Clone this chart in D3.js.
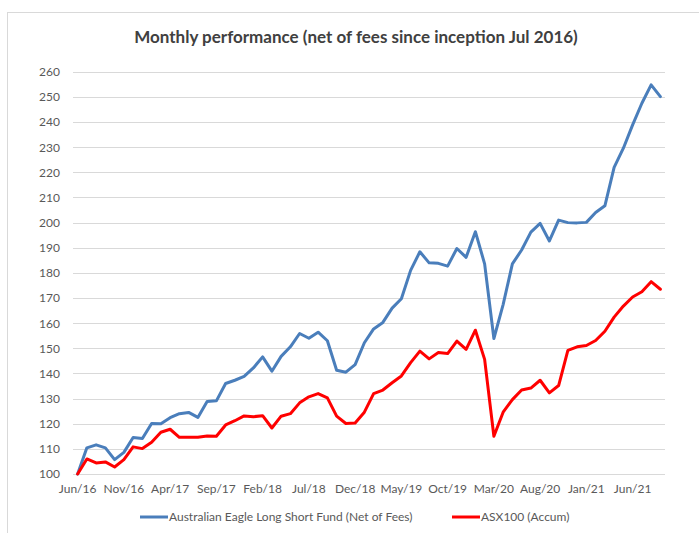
<!DOCTYPE html>
<html><head><meta charset="utf-8">
<script src="https://cdn.jsdelivr.net/npm/d3@7"></script>
<style>body{margin:0;background:#fff}svg{display:block}</style>
</head><body>
<svg id="c" width="699" height="533"></svg>
<script>
const months = ["Jun/16","Jul/16","Aug/16","Sep/16","Oct/16","Nov/16","Dec/16","Jan/17","Feb/17","Mar/17","Apr/17","May/17","Jun/17","Jul/17","Aug/17","Sep/17","Oct/17","Nov/17","Dec/17","Jan/18","Feb/18","Mar/18","Apr/18","May/18","Jun/18","Jul/18","Aug/18","Sep/18","Oct/18","Nov/18","Dec/18","Jan/19","Feb/19","Mar/19","Apr/19","May/19","Jun/19","Jul/19","Aug/19","Sep/19","Oct/19","Nov/19","Dec/19","Jan/20","Feb/20","Mar/20","Apr/20","May/20","Jun/20","Jul/20","Aug/20","Sep/20","Oct/20","Nov/20","Dec/20","Jan/21","Feb/21","Mar/21","Apr/21","May/21","Jun/21","Jul/21","Aug/21","Sep/21"];
const fundValues = [100,110.4,111.6,110.4,105.7,108.6,114.5,114.1,120.1,120,122.4,124,124.5,122.5,128.8,129.1,136,137.3,138.8,142.2,146.6,140.9,146.8,150.6,155.9,154,156.4,153,141.3,140.5,143.5,152.2,157.7,160.3,166,169.7,181,188.4,184,183.8,182.7,189.7,186.2,196.4,183.6,153.9,167.4,183.6,189.1,196.2,199.7,192.7,201,200,199.9,200.1,204,206.7,222,229.6,238.9,247.5,254.8,250.1];
const asxValues = [100,106,104.4,104.8,102.8,105.7,110.8,110.1,112.6,116.6,117.8,114.6,114.6,114.6,115.1,115,119.5,121.2,123.1,122.8,123.2,118.3,123,124,128.3,130.7,132,130.3,123,120.1,120.3,124.6,132,133.4,136.3,139,144.3,148.9,145.8,148.3,147.9,152.9,149.6,157.2,145.6,115,124.6,129.6,133.4,134.2,137.3,132.3,135.2,149.2,150.6,151.1,153.1,156.8,162.4,166.8,170.4,172.5,176.5,173.5];
const yTicks = [100,110,120,130,140,150,160,170,180,190,200,210,220,230,240,250,260];
const seriesNames = ["Australian Eagle Long Short Fund (Net of Fees)","ASX100 (Accum)"];
const seriesColors = ["#4a7ebb","#ff0000"];

const svg = d3.select("#c");
const font = "Lato, 'Liberation Sans', Arial, sans-serif";
// chart border
svg.append("rect").attr("x",7.5).attr("y",12.5).attr("width",720).attr("height",540)
  .attr("fill","none").attr("stroke","#d9d9d9").attr("stroke-width",1);

const x = d3.scaleBand().domain(months).range([73,665]);
const y = d3.scaleLinear().domain([100,260]).range([474,71.8]);

// gridlines
svg.append("g").selectAll("line").data(yTicks).join("line")
  .attr("x1",73).attr("x2",665).attr("y1",d=>Math.round(y(d))+0.5).attr("y2",d=>Math.round(y(d))+0.5)
  .attr("stroke","#d9d9d9").attr("stroke-width",1);

// y axis labels
const yAxis = d3.axisLeft(y).tickValues(yTicks).tickSize(0).tickPadding(0);
const gy = svg.append("g").attr("transform","translate(60,0)").call(yAxis);
gy.select(".domain").remove();
gy.selectAll("text").attr("font-family",font).attr("font-size",12).attr("fill","#595959");

// x axis labels
const xAxis = d3.axisBottom(x).tickValues(months.filter((m,i)=>i%5===0)).tickSize(0).tickPadding(0);
const gx = svg.append("g").attr("transform","translate(0,484)").call(xAxis);
gx.select(".domain").remove();
gx.selectAll("text").attr("font-family",font).attr("font-size",12).attr("fill","#595959");

// lines
const line = d3.line().x((d,i)=>x(months[i])+x.bandwidth()/2).y(d=>y(d));
[fundValues, asxValues].forEach((vals,k)=>{
  svg.append("path").datum(vals).attr("d",line).attr("fill","none")
    .attr("stroke",seriesColors[k]).attr("stroke-width",3).attr("stroke-linejoin","round").attr("stroke-linecap","round");
});

// title
svg.append("text").attr("x",356).attr("y",43).attr("text-anchor","middle")
  .attr("font-family",font).attr("font-weight","bold").attr("font-size",17).attr("fill","#404040")
  .text("Monthly performance (net of fees since inception Jul 2016)");

// legend
const legX = [140,452];
seriesNames.forEach((n,k)=>{
  const g = svg.append("g").attr("transform",`translate(${legX[k]},517)`);
  g.append("line").attr("x1",0).attr("x2",28).attr("y1",0).attr("y2",0).attr("stroke",seriesColors[k]).attr("stroke-width",3);
  g.append("text").attr("x",29).attr("y",4).attr("font-family",font).attr("font-size",12).attr("fill","#595959").text(n);
});
</script>
</body></html>
